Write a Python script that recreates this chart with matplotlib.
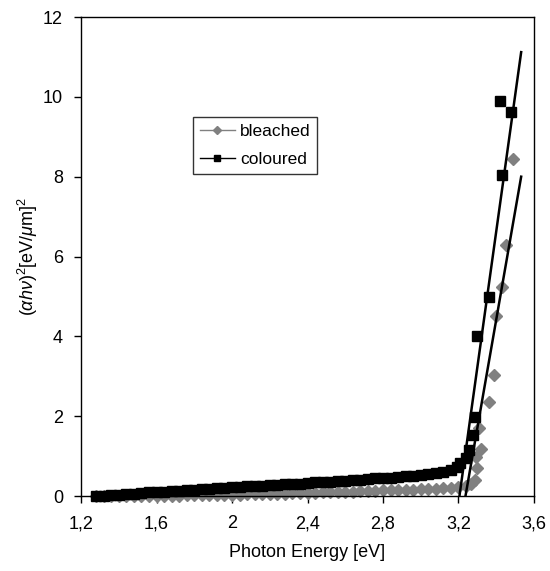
import numpy as np
import matplotlib.pyplot as plt
from matplotlib.lines import Line2D
from matplotlib.ticker import FixedLocator, FixedFormatter

plt.rcParams['font.family'] = ['Liberation Sans', 'DejaVu Sans']
plt.rcParams['mathtext.fontset'] = 'custom'
plt.rcParams['mathtext.rm'] = 'Liberation Sans'
plt.rcParams['mathtext.it'] = 'Liberation Sans:italic'

# bleached series (grey diamonds)
bl_x = [1.28, 1.32, 1.36, 1.40, 1.44, 1.48, 1.52, 1.56, 1.60, 1.64,
        1.68, 1.72, 1.76, 1.80, 1.84, 1.88, 1.92, 1.96, 2.00, 2.04,
        2.08, 2.12, 2.16, 2.20, 2.24, 2.28, 2.32, 2.36, 2.40, 2.44,
        2.48, 2.52, 2.56, 2.60, 2.64, 2.68, 2.72, 2.76, 2.80, 2.84,
        2.88, 2.92, 2.96, 3.00, 3.04, 3.08, 3.12, 3.16, 3.20, 3.24,
        3.265, 3.285, 3.294, 3.30, 3.308, 3.317, 3.364, 3.387, 3.40, 3.43,
        3.45, 3.49]
bl_y = [0.00, 0.00, 0.00, 0.00, 0.00, 0.00, 0.01, 0.01, 0.01, 0.01,
        0.01, 0.01, 0.02, 0.02, 0.02, 0.02, 0.02, 0.03, 0.03, 0.03,
        0.04, 0.04, 0.05, 0.05, 0.06, 0.06, 0.07, 0.07, 0.08, 0.08,
        0.09, 0.10, 0.10, 0.11, 0.11, 0.12, 0.12, 0.13, 0.14, 0.14,
        0.15, 0.15, 0.16, 0.17, 0.17, 0.18, 0.19, 0.20, 0.22, 0.25,
        0.30, 0.40, 0.99, 0.70, 1.70, 1.19, 2.36, 3.02, 4.52, 5.23,
        6.29, 8.45]

# coloured series (black squares)
co_x = [1.28, 1.32, 1.36, 1.40, 1.44, 1.48, 1.52, 1.56, 1.60, 1.64,
        1.68, 1.72, 1.76, 1.80, 1.84, 1.88, 1.92, 1.96, 2.00, 2.04,
        2.08, 2.12, 2.16, 2.20, 2.24, 2.28, 2.32, 2.36, 2.40, 2.44,
        2.48, 2.52, 2.56, 2.60, 2.64, 2.68, 2.72, 2.76, 2.80, 2.84,
        2.88, 2.92, 2.96, 3.00, 3.04, 3.08, 3.12, 3.16, 3.19, 3.21,
        3.24, 3.258, 3.276, 3.288, 3.299, 3.359, 3.42, 3.43, 3.48]
co_y = [0.00, 0.01, 0.02, 0.03, 0.05, 0.06, 0.07, 0.09, 0.10, 0.11,
        0.12, 0.13, 0.15, 0.16, 0.17, 0.18, 0.19, 0.20, 0.22, 0.23,
        0.24, 0.25, 0.25, 0.27, 0.28, 0.29, 0.30, 0.31, 0.33, 0.34,
        0.35, 0.36, 0.37, 0.38, 0.40, 0.41, 0.43, 0.44, 0.45, 0.46,
        0.48, 0.49, 0.51, 0.53, 0.55, 0.57, 0.60, 0.65, 0.72, 0.82,
        0.95, 1.15, 1.53, 1.99, 4.01, 4.99, 9.89, 8.05, 9.61]

# linear fits of the absorption edge (start / end points)
fit_co_x = [3.205, 3.532]
fit_co_y = [0.0, 11.12]
fit_bl_x = [3.237, 3.532]
fit_bl_y = [0.0, 8.0]

xticks = [1.2, 1.6, 2.0, 2.4, 2.8, 3.2, 3.6]
xlabels = ['1,2', '1,6', '2', '2,4', '2,8', '3,2', '3,6']
yticks = [0, 2, 4, 6, 8, 10, 12]

fig = plt.figure(figsize=(5.5, 5.71), dpi=100)
ax = fig.add_axes([0.1473, 0.1313, 0.8236, 0.8389])

grey = '#808080'
ax.plot(bl_x, bl_y, ls='none', marker='D', ms=6.5, color=grey, mec=grey,
        zorder=2, clip_on=False)
ax.plot(co_x, co_y, ls='none', marker='s', ms=6.5, color='black',
        zorder=3, clip_on=False)
ax.plot(fit_co_x, fit_co_y, color='black', lw=1.8, zorder=4)
ax.plot(fit_bl_x, fit_bl_y, color='black', lw=1.8, zorder=4)

ax.set_xlim(1.2, 3.6)
ax.set_ylim(0, 12)
ax.xaxis.set_major_locator(FixedLocator(xticks))
ax.xaxis.set_major_formatter(FixedFormatter(xlabels))
ax.set_yticks(yticks)
ax.tick_params(direction='out', length=5, width=1, labelsize=13, colors='black')
ax.tick_params(axis='x', pad=9)
ax.tick_params(axis='y', pad=8)
for s in ax.spines.values():
    s.set_linewidth(1)
    s.set_color('black')

ax.set_xlabel('Photon Energy [eV]', fontsize=13, labelpad=8)
ax.set_ylabel(r'$(\alpha h\nu)^2$[eV/$\mu$m]$^2$', fontsize=13, labelpad=2)

handles = [Line2D([], [], color=grey, lw=1, marker='D', ms=4.5, mec=grey),
           Line2D([], [], color='black', lw=1, marker='s', ms=5)]
leg = ax.legend(handles, ['bleached', 'coloured'], loc='upper left',
                bbox_to_anchor=(0.247, 0.791), fontsize=12.5, frameon=True,
                fancybox=False, edgecolor='black', borderpad=0.4,
                borderaxespad=0, handlelength=2.0, handletextpad=0.3,
                labelspacing=0.75)
leg.get_frame().set_linewidth(1)

fig.savefig('out.png', dpi=100)
